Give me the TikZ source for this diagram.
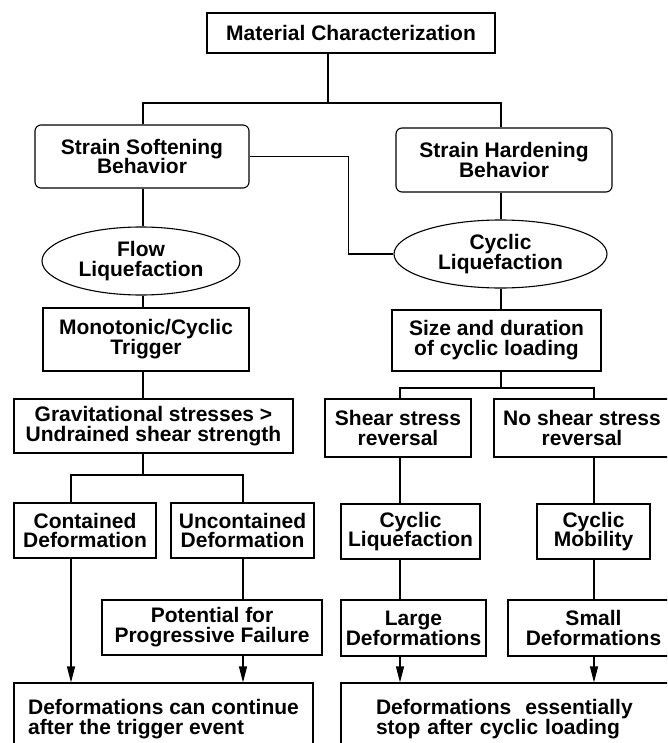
\documentclass[tikz,border=0pt]{standalone}
\usepackage{fontspec}
\setmainfont{Liberation Sans}
\usetikzlibrary{arrows.meta, positioning, shapes}

\begin{document}
\begin{tikzpicture}[x=1pt, y=-1pt, line width=1.1pt,
    font=\fontsize{21}{19.8}\selectfont\bfseries,
    box/.style={draw, align=center, inner sep=0pt},
    rbox/.style={box, rounded corners=6pt},
    oval/.style={draw, ellipse, align=center, inner sep=0pt},
    arr/.style={-{Triangle[length=16pt, width=8pt]}}]

      \clip (0,0) rectangle (667,743);

      % Top of the tree
      \node[box, minimum width=288pt, minimum height=40pt] (mat) at (351,33) {Material Characterization};
      \node[rbox, minimum width=214pt, minimum height=63pt] (soft) at (142,156.5) {Strain Softening\\Behavior};
      \node[rbox, minimum width=216pt, minimum height=64pt] (hard) at (504,160) {Strain Hardening\\Behavior};

      % Liquefaction types
      \node[oval, minimum width=198pt, minimum height=68pt] (flow) at (141,261) {Flow\\Liquefaction};
      \node[oval, minimum width=213pt, minimum height=68pt] (cycliq) at (500.5,254) {Cyclic\\Liquefaction};

      % Left branch
      \node[box, minimum width=206pt, minimum height=63pt] (trig) at (146,339.5) {Monotonic/Cyclic\\Trigger};
      \node[box, minimum width=279pt, minimum height=54pt] (grav) at (153.5,426) {Gravitational stresses >\\Undrained shear strength};
      \node[box, minimum width=142pt, minimum height=55pt] (cont) at (85,530.5) {Contained\\Deformation};
      \node[box, minimum width=143pt, minimum height=55pt] (uncont) at (242.5,530.5) {Uncontained\\Deformation};
      \node[box, minimum width=220pt, minimum height=55pt] (prog) at (212,627.5) {Potential for\\Progressive Failure};

      % Right branch
      \node[box, minimum width=209pt, minimum height=61pt] (load) at (496.5,340.5) {Size and duration\\of cyclic loading};
      \node[box, minimum width=146pt, minimum height=58pt] (rev) at (398,428) {Shear stress\\reversal};
      \node[box, minimum width=176pt, minimum height=58pt] (norev) at (582,428) {No shear stress\\reversal};
      \node[box, minimum width=139pt, minimum height=55pt] (cliq) at (410.5,531.5) {Cyclic\\Liquefaction};
      \node[box, minimum width=113pt, minimum height=55pt] (mob) at (593.5,531.5) {Cyclic\\Mobility};
      \node[box, minimum width=145pt, minimum height=56pt] (large) at (413.5,628) {Large\\Deformations};
      \node[box, minimum width=171pt, minimum height=56pt] (small) at (593.5,628) {Small\\Deformations};

      % Outcomes
      \node[box, align=left, minimum width=299pt, minimum height=72pt] (goon) at (163.5,719) {Deformations can continue\\after the trigger event};
      \node[box, align=left, text width=279pt, inner xsep=35pt, minimum height=72pt] (stop) at (515.5,719) {Deformations~~essentially\\stop after cyclic loading};

      % Columns and split points
      \coordinate (lcol) at (143,0);
      \coordinate (rcol) at (501,0);
      \coordinate (ccol) at (71,0);
      \coordinate (ucol) at (243,0);
      \coordinate (scol) at (400,0);
      \coordinate (mcol) at (594,0);
      \coordinate (split1) at (328,103);
      \coordinate (split2) at (143,475);
      \coordinate (split3) at (501,388);

      % Connectors
      \draw (split1 |- mat.south) -- (split1);
      \draw (lcol |- soft.north) |- (split1) -| (rcol |- hard.north);
      \draw (soft.east) -- ++(99,0) |- (cycliq.west);
      \draw (lcol |- soft.south) -- (lcol |- flow.north);
      \draw (lcol |- flow.south) -- (lcol |- trig.north);
      \draw (lcol |- trig.south) -- (lcol |- grav.north);
      \draw (lcol |- grav.south) -- (split2);
      \draw (ccol |- cont.north) |- (split2) -| (ucol |- uncont.north);
      \draw (ucol |- uncont.south) -- (ucol |- prog.north);
      \draw[arr] (ccol |- cont.south) -- (ccol |- goon.north);
      \draw[arr] (ucol |- prog.south) -- (ucol |- goon.north);

      \draw (rcol |- hard.south) -- (rcol |- cycliq.north);
      \draw (rcol |- cycliq.south) -- (rcol |- load.north);
      \draw (rcol |- load.south) -- (split3);
      \draw (scol |- rev.north) |- (split3) -| (mcol |- norev.north);
      \draw (scol |- rev.south) -- (scol |- cliq.north);
      \draw (scol |- cliq.south) -- (scol |- large.north);
      \draw (mcol |- norev.south) -- (mcol |- mob.north);
      \draw (mcol |- mob.south) -- (mcol |- small.north);
      \draw[arr] (scol |- large.south) -- (scol |- stop.north);
      \draw[arr] (mcol |- small.south) -- (mcol |- stop.north);

\end{tikzpicture}
\end{document}
